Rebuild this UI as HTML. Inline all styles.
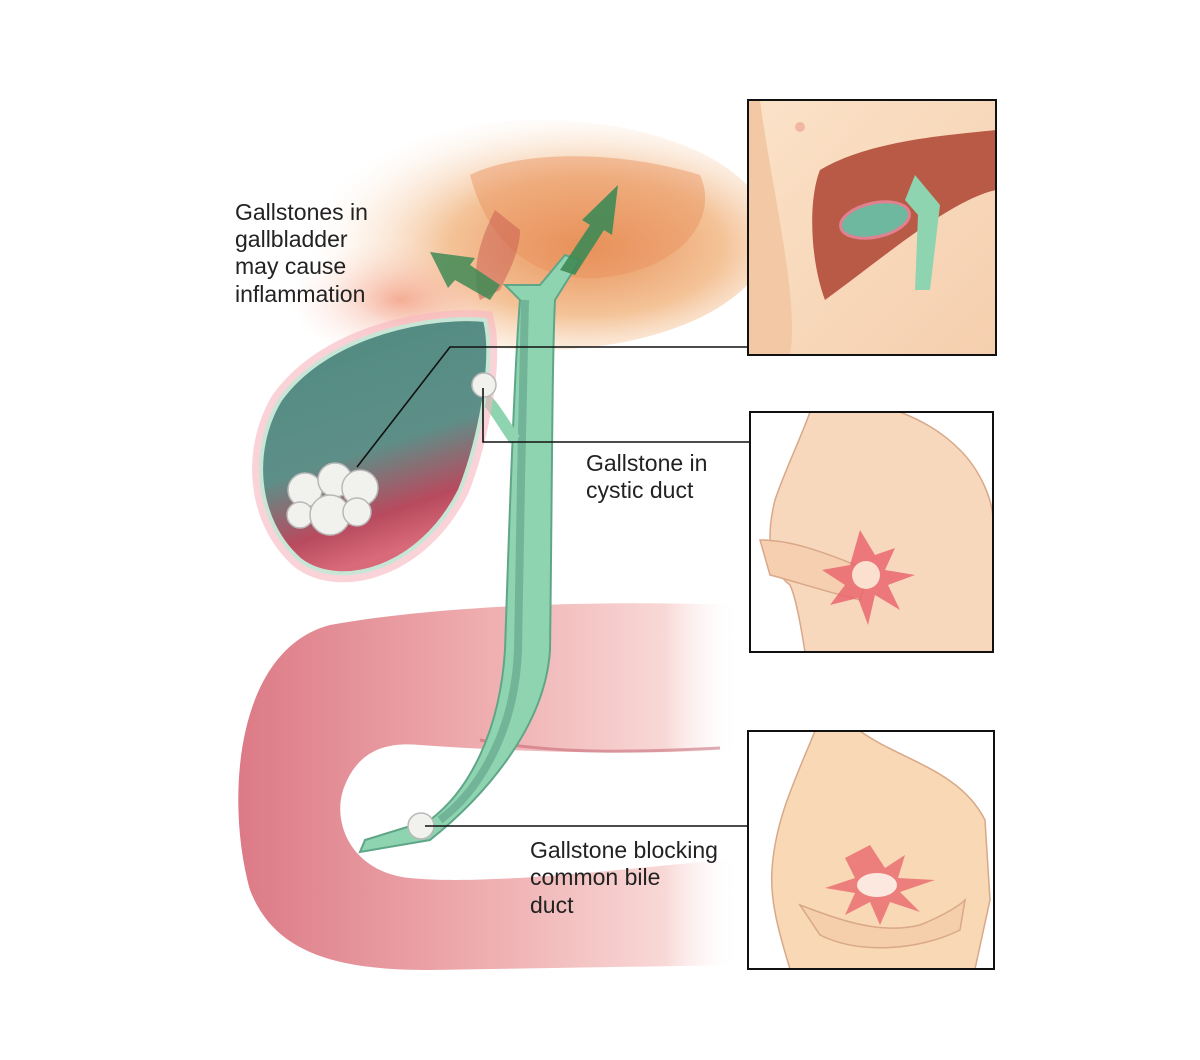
<!DOCTYPE html>
<html><head><meta charset="utf-8"><style>
html,body{margin:0;padding:0;background:#fff;}
svg{display:block;}
text{font-family:"Liberation Sans",sans-serif;font-size:23px;fill:#222;}
</style></head><body>
<svg width="1200" height="1060" viewBox="0 0 1200 1060" xmlns="http://www.w3.org/2000/svg">
<defs>
<radialGradient id="liv" cx="0.6" cy="0.55" r="0.6">
<stop offset="0" stop-color="#e8925a"/><stop offset="0.5" stop-color="#f4c398"/><stop offset="1" stop-color="#fdf0e4" stop-opacity="0"/>
</radialGradient>
<radialGradient id="glow" cx="0.5" cy="0.5" r="0.5">
<stop offset="0" stop-color="#f08060" stop-opacity="0.6"/><stop offset="1" stop-color="#fbd0c0" stop-opacity="0"/>
</radialGradient>
<linearGradient id="gb" x1="0" y1="0" x2="0.3" y2="1">
<stop offset="0" stop-color="#4e8a80"/><stop offset="0.6" stop-color="#5d8f88"/><stop offset="0.85" stop-color="#b84a5e"/><stop offset="1" stop-color="#d86a7a"/>
</linearGradient>
<linearGradient id="duo" x1="0" y1="0" x2="1" y2="0">
<stop offset="0" stop-color="#dc7a86"/><stop offset="0.5" stop-color="#efaeb0"/><stop offset="0.85" stop-color="#f8d8d6"/><stop offset="1" stop-color="#fff" stop-opacity="0"/>
</linearGradient>
<linearGradient id="skin" x1="0" y1="0" x2="1" y2="1">
<stop offset="0" stop-color="#fbe2c8"/><stop offset="1" stop-color="#f5cfae"/>
</linearGradient>
</defs>

<ellipse cx="540" cy="235" rx="230" ry="115" fill="url(#liv)"/>
<ellipse cx="400" cy="300" rx="110" ry="60" fill="url(#glow)"/>
<path d="M470,175 C520,150 620,150 700,175 C720,220 680,270 600,278 C540,282 490,250 470,175Z" fill="#e8905a" opacity="0.45"/>
<path d="M495,210 L520,230 C520,250 510,270 500,290 L480,300 C470,270 480,240 495,210Z" fill="#c85a50" opacity="0.5"/>

<path fill-rule="evenodd" fill="url(#duo)" d="M740,605 C600,600 440,605 330,625 C235,650 225,800 250,890 C275,955 340,970 430,970 L740,965 L740,858 C600,872 480,885 410,878 C350,872 330,820 345,785 C360,748 390,742 420,745 C520,752 620,755 740,750 Z"/>
<path d="M480,740 C560,755 640,752 720,748" stroke="#c05a6a" stroke-width="3" fill="none" opacity="0.5"/>

<path d="M505,285 L520,300 C515,360 510,500 505,650 C500,730 470,790 430,820 L365,840 L360,852 L430,840 C480,800 545,730 550,650 C552,500 552,360 555,300 L580,260 L565,255 L540,285 Z" fill="#8fd4b0" stroke="#5fa688" stroke-width="2"/>
<path d="M525,300 C522,400 520,550 518,650 C515,730 480,790 440,820" stroke="#5e9e88" stroke-width="8" fill="none" opacity="0.6"/>
<path d="M470,390 C490,395 500,420 515,440" stroke="#8fd4b0" stroke-width="12" fill="none"/>

<path d="M500,285 L470,265 L475,258 L430,252 L448,288 L455,280 L490,300Z" fill="#3f8a55" opacity="0.85"/>
<path d="M560,270 L590,225 L582,220 L618,185 L612,235 L604,230 L575,275Z" fill="#3f8a55" opacity="0.9"/>

<path d="M485,320 C440,315 330,330 280,400 C250,450 255,520 300,560 C340,590 420,570 460,490 C480,440 495,360 485,320Z" fill="none" stroke="#f7b5c0" stroke-width="18" opacity="0.6"/>
<path d="M485,320 C440,315 330,330 280,400 C250,450 255,520 300,560 C340,590 420,570 460,490 C480,440 495,360 485,320Z" fill="url(#gb)" stroke="#c7e6d6" stroke-width="4"/>
<g fill="#f1f1ee" stroke="#b8b8b8" stroke-width="1.5">
<circle cx="305" cy="490" r="17"/><circle cx="300" cy="515" r="13"/><circle cx="335" cy="480" r="17"/><circle cx="360" cy="488" r="18"/><circle cx="330" cy="515" r="20"/><circle cx="357" cy="512" r="14"/>
<circle cx="484" cy="385" r="12"/><circle cx="421" cy="826" r="13"/>
</g>

<g stroke="#111" stroke-width="1.6" fill="none">
<polyline points="357,467 450,347 748,347"/>
<polyline points="483,388 483,442 750,442"/>
<line x1="425" y1="826" x2="748" y2="826"/>
</g>

<text x="235" y="220">Gallstones in</text>
<text x="235" y="247">gallbladder</text>
<text x="235" y="274">may cause</text>
<text x="235" y="302">inflammation</text>
<text x="586" y="471">Gallstone in</text>
<text x="586" y="498">cystic duct</text>
<text x="530" y="858">Gallstone blocking</text>
<text x="530" y="885">common bile</text>
<text x="530" y="913">duct</text>

<rect x="748" y="100" width="248" height="255" fill="url(#skin)"/>
<path d="M748,100 L760,100 C770,180 800,300 790,355 L748,355Z" fill="#f3c9a5"/>
<path d="M820,170 C870,140 950,135 996,130 L996,190 C950,200 880,260 825,300 C810,260 808,200 820,170Z" fill="#b85a45"/>
<path d="M915,175 L940,205 L930,290 L915,290 L918,215 L905,200Z" fill="#8fd4b0"/>
<ellipse cx="875" cy="220" rx="35" ry="17" fill="#6fb8a0" stroke="#e08090" stroke-width="3" transform="rotate(-12 875 220)"/>
<circle cx="800" cy="127" r="5" fill="#f0b8a0"/>
<rect x="748" y="100" width="248" height="255" fill="none" stroke="#111" stroke-width="2"/>

<rect x="750" y="412" width="243" height="240" fill="#fff"/>
<path d="M810,412 L900,412 C920,420 940,430 960,450 C980,470 993,500 993,520 L993,652 L805,652 C800,620 795,595 790,585 C770,570 765,540 775,500 C785,470 800,440 810,412Z" fill="#f8d8bd" stroke="#d9a888" stroke-width="1.5"/>
<path d="M760,540 C800,540 840,560 870,570 L860,600 C820,590 790,580 770,575Z" fill="#f5cfb0" stroke="#d9a888" stroke-width="1.5"/>
<path d="M860,530 L875,555 L895,548 L885,570 L915,575 L888,585 L900,610 L875,595 L868,625 L858,598 L830,605 L845,585 L822,570 L850,565Z" fill="#e8606a" opacity="0.8"/>
<circle cx="866" cy="575" r="14" fill="#fbe0d0"/>
<rect x="750" y="412" width="243" height="240" fill="none" stroke="#111" stroke-width="2"/>

<rect x="748" y="731" width="246" height="238" fill="#fff"/>
<path d="M815,731 L860,731 C900,760 960,770 985,820 L990,900 L975,969 L790,969 C778,930 770,900 772,870 C775,820 795,780 815,731Z" fill="#f8d8b5" stroke="#d9a888" stroke-width="1.5"/>
<path d="M800,905 C840,920 880,935 920,925 C945,915 960,905 965,900 L960,930 C920,950 860,955 820,935Z" fill="#f5cfac" stroke="#d9a888" stroke-width="1.5"/>
<path d="M870,845 L885,868 L905,855 L898,878 L935,880 L900,892 L920,912 L890,902 L880,925 L870,902 L845,915 L855,893 L825,888 L855,878 L845,858Z" fill="#e8606a" opacity="0.75"/>
<ellipse cx="877" cy="885" rx="20" ry="12" fill="#fde8e0"/>
<rect x="748" y="731" width="246" height="238" fill="none" stroke="#111" stroke-width="2"/>
</svg>
</body></html>
